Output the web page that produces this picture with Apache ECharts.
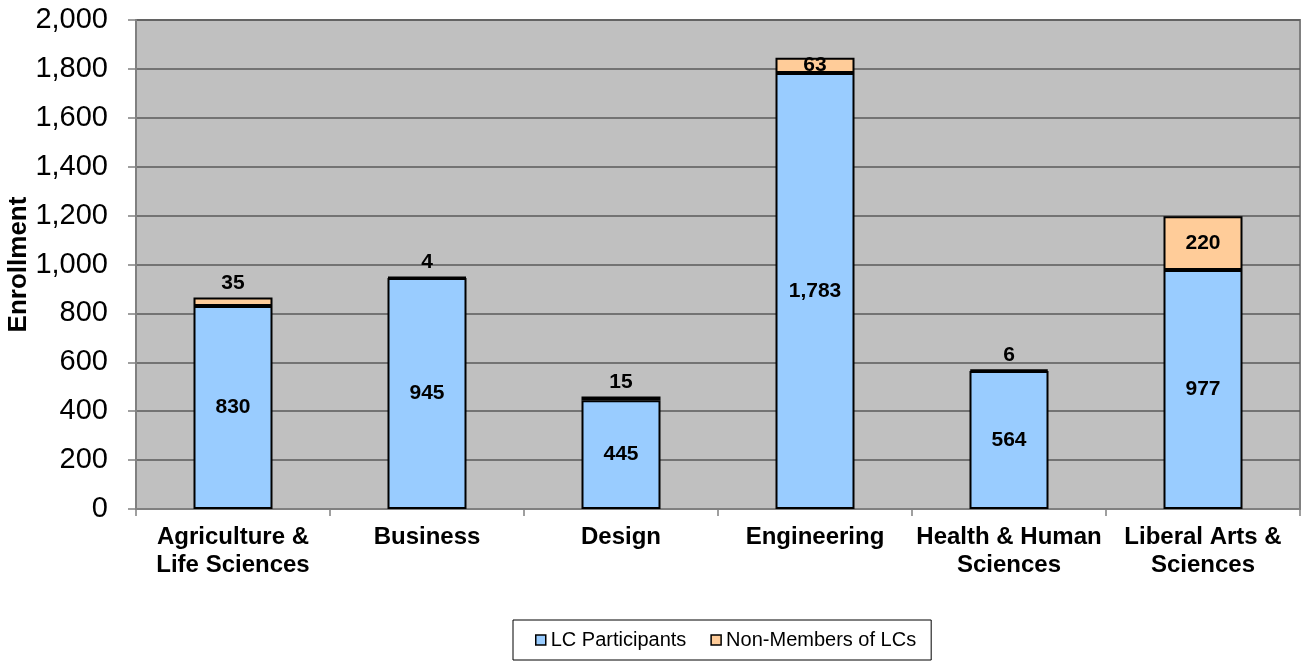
<!DOCTYPE html>
<html><head><meta charset="utf-8">
<script src="https://cdn.jsdelivr.net/npm/echarts@6/dist/echarts.min.js"></script>
<style>html,body{margin:0;padding:0;background:#fff}#c{width:1304px;height:665px}</style>
</head><body><div id="c"></div>
<script>
var categories = ['Agriculture &\nLife Sciences', 'Business', 'Design', 'Engineering', 'Health & Human\nSciences', 'Liberal Arts &\nSciences'];
var lcParticipants = [830, 945, 445, 1783, 564, 977];
var nonMembers = [35, 4, 15, 63, 6, 220];
var yTicks = [0, 200, 400, 600, 800, 1000, 1200, 1400, 1600, 1800, 2000];

function fmt(v){ return v.toLocaleString('en-US'); }
var FF = 'Liberation Sans, Arial, sans-serif';
var labelFont = {fontFamily:FF, fontWeight:'bold', fontSize:21, color:'#000'};

var chart = echarts.init(document.getElementById('c'));
chart.setOption({
  animation:false,
  grid:{left:136, top:20, right:4, bottom:156, containLabel:false, outerBoundsMode:'none', show:true, backgroundColor:'#C0C0C0', borderColor:'#808080', borderWidth:2},
  legend:{
    bottom:5, left:513, itemWidth:10, itemHeight:10, itemGap:24,
    padding:[10,15,10,22], borderColor:'#000', borderWidth:1, backgroundColor:'#fff',
    icon:'rect',
    textStyle:{fontFamily:FF, fontSize:20, color:'#000'},
    data:[{name:'LC Participants', itemStyle:{borderColor:'#000', borderWidth:1.5}}, {name:'Non-Members of LCs', itemStyle:{borderColor:'#000', borderWidth:1.5}}]
  },
  xAxis:{
    type:'category', data:categories,
    axisLine:{lineStyle:{color:'#808080', width:2}},
    axisTick:{show:true, alignWithLabel:false, length:7, lineStyle:{color:'#808080', width:1.5}},
    axisLabel:{fontFamily:FF, fontWeight:'bold', fontSize:24, color:'#000', margin:14, lineHeight:28, interval:0}
  },
  yAxis:{
    type:'value', min:0, max:2000, interval:200,
    name:'Enrollment', nameLocation:'middle', nameGap:104, nameRotate:90, nameMoveOverlap:false,
    nameTextStyle:{fontFamily:FF, fontWeight:'bold', fontSize:26, color:'#000'},
    axisLine:{show:true, lineStyle:{color:'#808080', width:2}},
    axisTick:{show:true, length:8, lineStyle:{color:'#808080', width:1.5}},
    splitLine:{show:true, lineStyle:{color:'#5a5a5a', width:1.5}},
    axisLabel:{fontFamily:FF, fontSize:29, color:'#000', margin:28,
      formatter:function(v){ return yTicks.indexOf(v) >= 0 ? fmt(v) : ''; }}
  },
  series:[
    {name:'LC Participants', type:'bar', stack:'t', barWidth:79,
     itemStyle:{color:'#99CCFF', borderColor:'#000', borderWidth:2},
     label:Object.assign({show:true, position:'inside', formatter:function(p){return fmt(p.value);}}, labelFont),
     data:lcParticipants},
    {name:'Non-Members of LCs', type:'bar', stack:'t', barWidth:79,
     itemStyle:{color:'#FFCC99', borderColor:'#000', borderWidth:2},
     label:Object.assign({show:true, position:'inside', formatter:function(p){return fmt(p.value);}}, labelFont),
     data:nonMembers.map(function(v){ return v < 50 ? {value:v, label:{position:'top', distance:4}} : v; })}
  ]
});
</script></body></html>
